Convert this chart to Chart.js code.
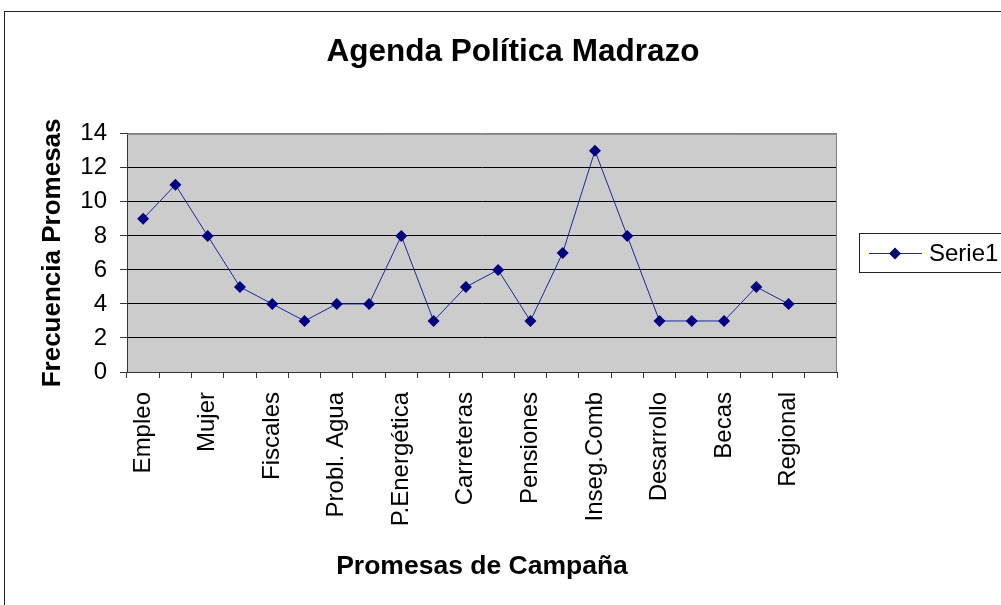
<!DOCTYPE html>
<html>
<head>
<meta charset="utf-8">
<title>Agenda Política Madrazo</title>
<script src="https://cdn.jsdelivr.net/npm/chart.js@4/dist/chart.umd.min.js"></script>
<style>
    body { margin: 0; background: #fff; }
    #wrap { width: 1001px; height: 605px; }
</style>
</head>
<body>
<div id="wrap"><canvas id="chart" width="1001" height="605"></canvas></div>
<script>
// categories (only every other one is labelled in the original)
const categories = ['Empleo', '', 'Mujer', '', 'Fiscales', '', 'Probl. Agua', '', 'P.Energética', '',
    'Carreteras', '', 'Pensiones', '', 'Inseg.Comb', '', 'Desarrollo', '', 'Becas', '', 'Regional', ''];
const serie1 = [9, 11, 8, 5, 4, 3, 4, 4, 8, 3, 5, 6, 3, 7, 13, 8, 3, 3, 3, 5, 4, null];
const yTicks = [0, 2, 4, 6, 8, 10, 12, 14];

const FONT = "'Liberation Sans', Arial, sans-serif";
const NAVY = '#000080';

// gray plot area + outer frame
const plotBg = {
    id: 'plotBg',
    afterLayout(chart) {
        // title is centred on the whole frame, not the plot
        const t = chart.titleBlock;
        if (t) { t.left = 25; t.right = 1001; t.width = 976; }
    },
    beforeDraw(chart) {
        const { ctx, chartArea: a } = chart;
        ctx.save();
        ctx.fillStyle = '#fff';
        ctx.fillRect(0, 0, chart.width, chart.height);
        ctx.strokeStyle = '#222';
        ctx.lineWidth = 1;
        ctx.strokeRect(4.5, 11.5, 1010, 610);
        ctx.fillStyle = '#CCCCCC';
        ctx.fillRect(a.left, a.top, a.right - a.left, a.bottom - a.top);
        ctx.restore();
    },
    afterDatasetsDraw(chart) {
        const { ctx, chartArea: a } = chart;
        ctx.save();
        ctx.strokeStyle = '#808080';
        ctx.lineWidth = 1;
        ctx.beginPath();
        ctx.moveTo(a.left, a.top + 0.5);
        ctx.lineTo(a.right - 0.5, a.top + 0.5);
        ctx.lineTo(a.right - 0.5, a.bottom);
        ctx.stroke();
        ctx.restore();
    }
};

// boxed legend on the right, line + diamond like the original
const boxLegend = {
    id: 'boxLegend',
    afterDraw(chart) {
        const { ctx } = chart;
        const ds = chart.data.datasets[0];
        ctx.save();
        ctx.strokeStyle = '#222';
        ctx.lineWidth = 1;
        ctx.strokeRect(859.5, 233.5, 160, 39);
        ctx.strokeStyle = ds.borderColor;
        ctx.beginPath();
        ctx.moveTo(869, 253.5);
        ctx.lineTo(922, 253.5);
        ctx.stroke();
        ctx.fillStyle = NAVY;
        Chart.helpers.drawPoint(ctx, { pointStyle: 'rectRot', radius: 6, borderWidth: 0 }, 895, 253.5);
        ctx.fillStyle = '#000';
        ctx.font = '24px ' + FONT;
        ctx.textBaseline = 'middle';
        ctx.textAlign = 'left';
        ctx.fillText(ds.label, 929, 254);
        ctx.restore();
    }
};

new Chart(document.getElementById('chart'), {
    type: 'line',
    data: {
        labels: categories,
        datasets: [{
            label: 'Serie1',
            data: serie1,
            borderColor: '#1a2a9a',
            borderWidth: 1,
            backgroundColor: NAVY,
            pointStyle: 'rectRot',
            pointRadius: 6,
            pointBorderWidth: 0,
            pointBackgroundColor: NAVY,
            tension: 0,
            spanGaps: false
        }]
    },
    options: {
        responsive: false,
        animation: false,
        layout: { padding: { left: 0, right: 164, top: 0, bottom: 0 } },
        plugins: {
            legend: { display: false },
            tooltip: { enabled: false },
            title: {
                display: true,
                text: 'Agenda Política Madrazo',
                color: '#000',
                font: { family: FONT, size: 31.5, weight: 'bold' },
                padding: { top: 33, bottom: 63 }
            }
        },
        scales: {
            x: {
                offset: true,
                afterFit: (s) => { s.height = 233; },
                grid: {
                    offset: true,
                    drawOnChartArea: false,
                    drawTicks: true,
                    tickLength: 6,
                    tickColor: '#333'
                },
                border: { color: '#333', width: 1 },
                ticks: {
                    autoSkip: false,
                    maxRotation: 90,
                    minRotation: 90,
                    padding: 14,
                    color: '#000',
                    font: { family: FONT, size: 24 }
                },
                title: {
                    display: true,
                    text: 'Promesas de Campaña',
                    color: '#000',
                    font: { family: FONT, size: 26.5, weight: 'bold' },
                    padding: { top: 0, bottom: 22 }
                }
            },
            y: {
                min: 0,
                max: 14,
                afterFit: (s) => { s.width = 127; },
                afterBuildTicks: (s) => { s.ticks = yTicks.map(v => ({ value: v })); },
                grid: {
                    color: (c) => (c.tick && c.tick.value === 14 ? '#808080' : '#000'),
                    lineWidth: 1,
                    drawTicks: true,
                    tickLength: 7,
                    tickColor: '#333'
                },
                border: { color: '#333', width: 1 },
                ticks: {
                    padding: 13,
                    color: '#000',
                    font: { family: FONT, size: 24 }
                },
                title: {
                    display: true,
                    text: 'Frecuencia Promesas',
                    color: '#000',
                    font: { family: FONT, size: 26, weight: 'bold' },
                    padding: { top: 37, bottom: 0 }
                }
            }
        }
    },
    plugins: [plotBg, boxLegend]
});
</script>
</body>
</html>
